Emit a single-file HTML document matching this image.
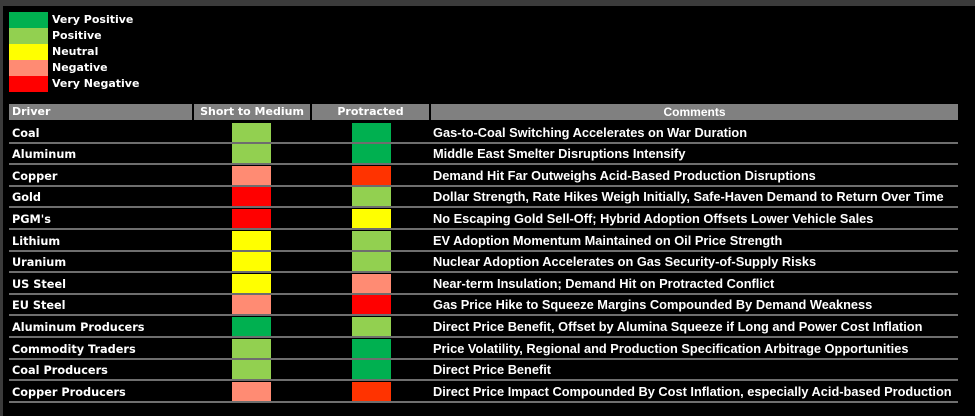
<!DOCTYPE html>
<html><head><meta charset="utf-8"><style>
body{margin:0;width:975px;height:416px;background:#000;position:relative;overflow:hidden}
.f{position:absolute}
.lg{position:absolute;left:52px;font:bold 11px "DejaVu Sans",sans-serif;color:#fff;line-height:16px}
.sw{position:absolute;left:9px;width:39px;height:16px}
.hd{position:absolute;top:104px;height:16px;background:#808080;color:#fff;font:bold 11px "DejaVu Sans",sans-serif;line-height:16px}
.dr{position:absolute;left:12px;font:bold 11.3px "DejaVu Sans",sans-serif;color:#fff;line-height:20px}
.cm{position:absolute;left:433px;font:bold 12.8px "Liberation Sans",sans-serif;color:#fff;line-height:20px;white-space:nowrap}
.ln{position:absolute;left:9px;width:949px;height:2px;background:#6e6e6e}
.b{position:absolute;width:39px;height:19px}
</style></head><body>
<div class="f" style="left:0;top:0;width:975px;height:6px;background:#3b3b3b"></div>
<div class="f" style="left:0;top:0;width:3px;height:416px;background:#3b3b3b"></div>
<div class="sw" style="top:12px;background:#00b050"></div>
<div class="sw" style="top:28px;background:#92d050"></div>
<div class="sw" style="top:44px;background:#ffff00"></div>
<div class="sw" style="top:60px;background:#ff8b73"></div>
<div class="sw" style="top:76px;background:#ff0000"></div>
<div class="lg" style="top:12px">Very Positive</div>
<div class="lg" style="top:28px">Positive</div>
<div class="lg" style="top:44px">Neutral</div>
<div class="lg" style="top:60px">Negative</div>
<div class="lg" style="top:76px">Very Negative</div>
<div class="hd" style="left:9px;width:180px;padding-left:3px">Driver</div>
<div class="hd" style="left:194px;width:116px;text-align:center">Short to Medium</div>
<div class="hd" style="left:312px;width:117px;text-align:center">Protracted</div>
<div class="hd" style="left:431px;width:527px;text-align:center;font-family:'Liberation Sans',sans-serif;font-size:12px">Comments</div>
<div id="rows"></div>
<script>
var C={VP:"#00b050",P:"#92d050",N:"#ffff00",NG:"#ff8b73",VN:"#ff0000",OR:"#ff3300"};
var R=[["Coal","P","VP","Gas-to-Coal Switching Accelerates on War Duration"],
["Aluminum","P","VP","Middle East Smelter Disruptions Intensify"],
["Copper","NG","OR","Demand Hit Far Outweighs Acid-Based Production Disruptions"],
["Gold","VN","P","Dollar Strength, Rate Hikes Weigh Initially, Safe-Haven Demand to Return Over Time"],
["PGM's","VN","N","No Escaping Gold Sell-Off; Hybrid Adoption Offsets Lower Vehicle Sales"],
["Lithium","N","P","EV Adoption Momentum Maintained on Oil Price Strength"],
["Uranium","N","P","Nuclear Adoption Accelerates on Gas Security-of-Supply Risks"],
["US Steel","N","NG","Near-term Insulation; Demand Hit on Protracted Conflict"],
["EU Steel","NG","VN","Gas Price Hike to Squeeze Margins Compounded By Demand Weakness"],
["Aluminum Producers","VP","P","Direct Price Benefit, Offset by Alumina Squeeze if Long and Power Cost Inflation"],
["Commodity Traders","P","VP","Price Volatility, Regional and Production Specification Arbitrage Opportunities"],
["Coal Producers","P","VP","Direct Price Benefit"],
["Copper Producers","NG","OR","Direct Price Impact Compounded By Cost Inflation, especially Acid-based Production"]];
var h="";
for(var i=0;i<R.length;i++){var t=121+i*21.6;var r=R[i];
h+='<div class="dr" style="top:'+(t+2.5)+'px">'+r[0]+'</div>';
h+='<div class="b" style="left:232px;top:'+(t+1.5)+'px;background:'+C[r[1]]+'"></div>';
h+='<div class="b" style="left:352px;top:'+(t+1.5)+'px;background:'+C[r[2]]+'"></div>';
h+='<div class="cm" style="top:'+(t+1.5)+'px">'+r[3]+'</div>';
h+='<div class="ln" style="top:'+(t+20.6)+'px"></div>';}
document.getElementById("rows").innerHTML=h;
</script>
</body></html>
